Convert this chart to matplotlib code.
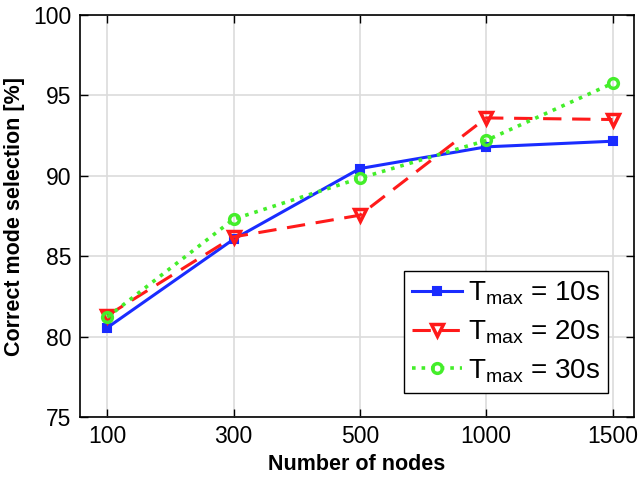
import matplotlib.pyplot as plt
import numpy as np

plt.rcParams['font.family'] = ['Liberation Sans', 'DejaVu Sans']
plt.rcParams['mathtext.fontset'] = 'custom'
plt.rcParams['mathtext.rm'] = 'Liberation Sans'

nodes = ["100", "300", "500", "1000", "1500"]
t10 = [80.55, 86.05, 90.45, 91.8, 92.15]
t20 = [81.3, 86.2, 87.55, 93.6, 93.5]
t30 = [81.2, 87.3, 89.85, 92.2, 95.75]
labels = [r"$\mathregular{T_{max}}$ = 10s",
          r"$\mathregular{T_{max}}$ = 20s",
          r"$\mathregular{T_{max}}$ = 30s"]

x = np.arange(1, len(nodes) + 1)

fig = plt.figure(figsize=(6.42, 4.83), dpi=100)
ax = fig.add_axes([80 / 642, 1 - 417 / 483, 554 / 642, 402 / 483])

ax.plot(x, t10, "-", color="#1a2cff", lw=2.2, marker="s", ms=6,
        mfc="#1a2cff", mec="#1a2cff", mew=1.5, label=labels[0])
ax.plot(x, t20, "--", color="#ff1a1a", lw=2.2, marker="v", ms=8.5,
        mfc="none", mec="#ff1a1a", mew=2.5, dashes=(6, 3.5), label=labels[1])
ax.plot(x, t30, ":", color="#44ee2a", lw=2.6, marker="o", ms=7,
        mfc="none", mec="#44ee2a", mew=2.5, label=labels[2])

ax.set_xlim(0.785, 5.17)
ax.set_ylim(75, 100)
ax.set_xticks(x)
ax.set_xticklabels(nodes)
ax.set_yticks(np.arange(75, 101, 5))
ax.grid(True, color="#dcdcdc", lw=1.2)
ax.set_axisbelow(True)
ax.tick_params(direction="in", length=6, width=1, labelsize=16.5,
               top=True, right=True, pad=6)
for s in ax.spines.values():
    s.set_linewidth(1.2)

ax.set_xlabel("Number of nodes", fontsize=15.5, fontweight="bold", labelpad=4)
ax.set_ylabel("Correct mode selection [%]", fontsize=15.5, fontweight="bold",
              labelpad=6)

leg = ax.legend(loc="lower right", bbox_to_anchor=(0.953, 0.06),
                fontsize=20, frameon=True, fancybox=False, framealpha=1,
                edgecolor="black", handlelength=1.8, handletextpad=0.2,
                borderpad=0.3, labelspacing=0.4, borderaxespad=0)
leg.get_frame().set_linewidth(1.0)

fig.savefig("out.png", dpi=100)
